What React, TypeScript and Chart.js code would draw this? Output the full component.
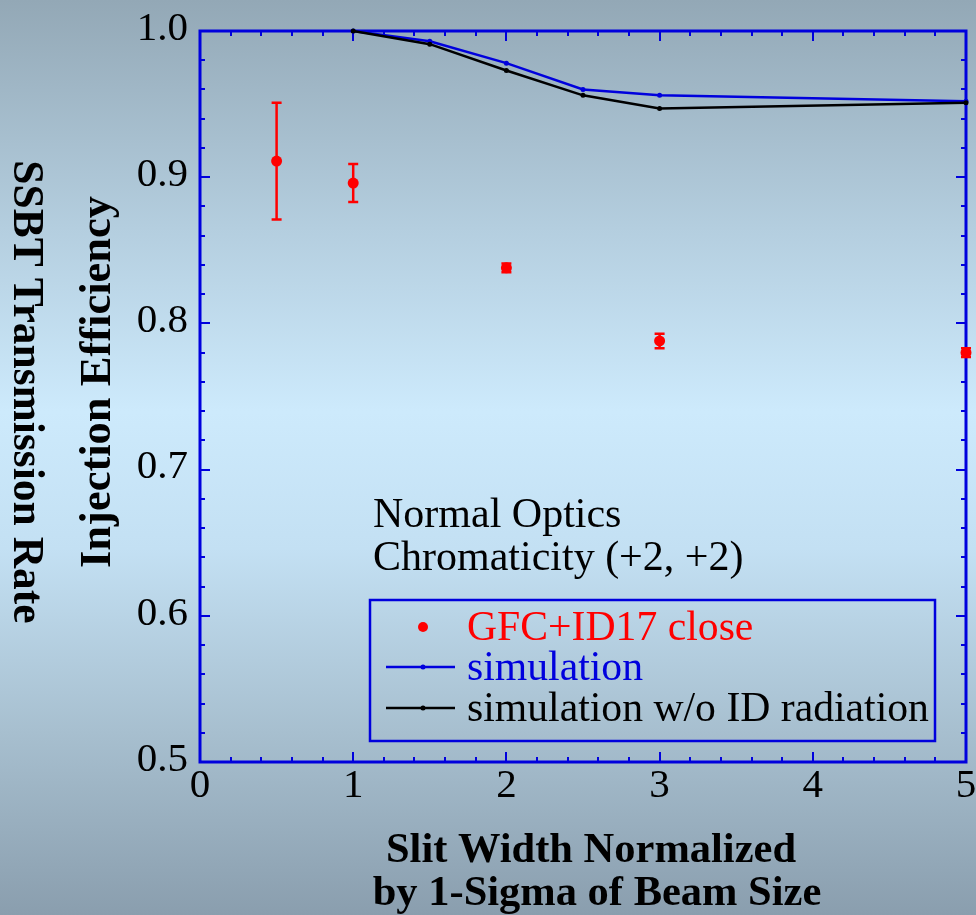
import React, { useEffect, useRef } from "react";
import { Chart, registerables } from "chart.js";

Chart.register(...registerables);

// Measured SSBT transmission (GFC + ID17 closed)
const measuredX = [0.5, 1, 2, 3, 5];
const measuredY = [0.911, 0.896, 0.838, 0.788, 0.78];
const measuredErr = [0.04, 0.013, 0.003, 0.005, 0.003];

// Simulated injection efficiency
const simX = [1, 1.5, 2, 2.5, 3, 5];
const simulation = [1.0, 0.993, 0.978, 0.96, 0.956, 0.952];
const simulationNoId = [1.0, 0.991, 0.973, 0.956, 0.947, 0.951];

// Axis ticks
const xTicks = [0, 1, 2, 3, 4, 5];
const xTickLabels = ["0", "1", "2", "3", "4", "5"];
const yTicks = [0.5, 0.6, 0.7, 0.8, 0.9, 1.0];
const yTickLabels = ["0.5", "0.6", "0.7", "0.8", "0.9", "1.0"];
const xMinorStep = 0.2;
const yMinorStep = 0.02;

const legendLabels = ["GFC+ID17 close", "simulation", "simulation w/o ID radiation"];
const noteLines = ["Normal Optics", "Chromaticity (+2, +2)"];
const xTitleLines = ["Slit Width Normalized", "by 1-Sigma of Beam Size"];
const yTitleInner = "Injection Efficiency";
const yTitleOuter = "SSBT Transmission Rate";

const AXIS_BLUE = "#0000dd";
const RED = "#ff0000";
const SERIF = '"Liberation Serif", "Times New Roman", serif';

const errorBars = {
  id: "errorBars",
  beforeDatasetsDraw(chart: any) {
    const { ctx, scales } = chart;
    const xs = scales.x;
    const ys = scales.y;
    ctx.save();
    ctx.strokeStyle = RED;
    ctx.lineWidth = 2.5;
    measuredX.forEach((x, i) => {
      const px = xs.getPixelForValue(x);
      const top = ys.getPixelForValue(measuredY[i] + measuredErr[i]);
      const bot = ys.getPixelForValue(measuredY[i] - measuredErr[i]);
      ctx.beginPath();
      ctx.moveTo(px, top);
      ctx.lineTo(px, bot);
      ctx.moveTo(px - 5, top);
      ctx.lineTo(px + 5, top);
      ctx.moveTo(px - 5, bot);
      ctx.lineTo(px + 5, bot);
      ctx.stroke();
    });
    ctx.restore();
  },
};

const frameAndAxes = {
  id: "frameAndAxes",
  beforeDatasetsDraw(chart: any) {
    const { ctx, chartArea, scales } = chart;
    const { left, right, top, bottom } = chartArea;
    const xs = scales.x;
    const ys = scales.y;
    ctx.save();
    ctx.strokeStyle = AXIS_BLUE;
    ctx.lineCap = "butt";

    // inward ticks on all four sides
    ctx.lineWidth = 2;
    const xMin = xs.min, xMax = xs.max;
    for (let v = xMin; v <= xMax + 1e-9; v += xMinorStep) {
      const major = xTicks.some((t) => Math.abs(t - v) < 1e-6);
      const len = major ? 10 : 5;
      const px = Math.round(xs.getPixelForValue(v));
      ctx.beginPath();
      ctx.moveTo(px, bottom);
      ctx.lineTo(px, bottom - len);
      ctx.moveTo(px, top);
      ctx.lineTo(px, top + len);
      ctx.stroke();
    }
    const yMin = ys.min, yMax = ys.max;
    for (let v = yMin; v <= yMax + 1e-9; v += yMinorStep) {
      const major = yTicks.some((t) => Math.abs(t - v) < 1e-6);
      const len = major ? 10 : 5;
      const py = Math.round(ys.getPixelForValue(v));
      ctx.beginPath();
      ctx.moveTo(left, py);
      ctx.lineTo(left + len, py);
      ctx.moveTo(right, py);
      ctx.lineTo(right - len, py);
      ctx.stroke();
    }

    // frame
    ctx.lineWidth = 3;
    ctx.strokeRect(left, top, right - left, bottom - top);

    // tick labels
    ctx.fillStyle = "#000";
    ctx.font = `41px ${SERIF}`;
    ctx.textAlign = "center";
    ctx.textBaseline = "middle";
    xTicks.forEach((t, i) => {
      ctx.fillText(xTickLabels[i], xs.getPixelForValue(t), bottom + 24);
    });
    ctx.textAlign = "right";
    yTicks.forEach((t, i) => {
      ctx.fillText(yTickLabels[i], left - 12, ys.getPixelForValue(t) - 2);
    });

    // axis titles
    ctx.font = `bold 42.5px ${SERIF}`;
    ctx.textAlign = "center";
    ctx.textBaseline = "alphabetic";
    ctx.fillText(xTitleLines[0], 591, 862);
    ctx.fillText(xTitleLines[1], 597, 905);

    ctx.save();
    ctx.font = `bold 44.5px ${SERIF}`;
    ctx.translate(110, 382);
    ctx.rotate(-Math.PI / 2);
    ctx.fillText(yTitleInner, 0, 0);
    ctx.restore();

    ctx.save();
    ctx.font = `bold 43.5px ${SERIF}`;
    ctx.translate(14, 392);
    ctx.rotate(Math.PI / 2);
    ctx.fillText(yTitleOuter, 0, 0);
    ctx.restore();

    ctx.restore();
  },
  afterDatasetsDraw(chart: any) {
    const { ctx } = chart;
    ctx.save();

    // note text
    ctx.fillStyle = "#000";
    ctx.font = `42px ${SERIF}`;
    ctx.textAlign = "left";
    ctx.textBaseline = "alphabetic";
    ctx.fillText(noteLines[0], 373, 527);
    ctx.fillText(noteLines[1], 373, 570);

    // legend box
    ctx.strokeStyle = AXIS_BLUE;
    ctx.lineWidth = 2.5;
    ctx.strokeRect(370, 600, 565, 141);

    const rows = [627, 667, 708];
    // measured marker
    ctx.fillStyle = RED;
    ctx.beginPath();
    ctx.arc(423, rows[0], 5, 0, Math.PI * 2);
    ctx.fill();
    // line markers
    const lineCols = [AXIS_BLUE, "#000"];
    lineCols.forEach((c, i) => {
      const y = rows[i + 1];
      ctx.strokeStyle = c;
      ctx.fillStyle = c;
      ctx.lineWidth = 2.5;
      ctx.beginPath();
      ctx.moveTo(386, y);
      ctx.lineTo(455, y);
      ctx.stroke();
      ctx.beginPath();
      ctx.arc(423, y, 2.5, 0, Math.PI * 2);
      ctx.fill();
    });

    ctx.font = `41.7px ${SERIF}`;
    ctx.textBaseline = "middle";
    const textCols = [RED, AXIS_BLUE, "#000"];
    legendLabels.forEach((l, i) => {
      ctx.fillStyle = textCols[i];
      ctx.fillText(l, 467, rows[i] + 2);
    });

    ctx.restore();
  },
};

export default function App() {
  const canvasRef = useRef<HTMLCanvasElement | null>(null);

  useEffect(() => {
    const canvas = canvasRef.current;
    if (!canvas) return;
    const chart = new Chart(canvas, {
      type: "scatter",
      data: {
        datasets: [
          {
            label: legendLabels[0],
            data: measuredX.map((x, i) => ({ x, y: measuredY[i] })),
            backgroundColor: RED,
            borderColor: RED,
            pointRadius: 5.5,
            pointHoverRadius: 5.5,
            borderWidth: 0,
            showLine: false,
            clip: false as any,
            order: 0,
          },
          {
            label: legendLabels[2],
            data: simX.map((x, i) => ({ x, y: simulationNoId[i] })),
            borderColor: "#000",
            backgroundColor: "#000",
            pointRadius: 2.5,
            pointBorderWidth: 0,
            borderWidth: 2.5,
            showLine: true,
            tension: 0,
            clip: false as any,
            order: 1,
          },
          {
            label: legendLabels[1],
            data: simX.map((x, i) => ({ x, y: simulation[i] })),
            borderColor: AXIS_BLUE,
            backgroundColor: AXIS_BLUE,
            pointRadius: 2.5,
            pointBorderWidth: 0,
            borderWidth: 2.5,
            showLine: true,
            tension: 0,
            clip: false as any,
            order: 2,
          },
        ],
      },
      options: {
        animation: false,
        responsive: false,
        maintainAspectRatio: false,
        devicePixelRatio: 1,
        layout: { padding: { left: 200, top: 31, right: 10, bottom: 153 } },
        plugins: {
          legend: { display: false },
          tooltip: { enabled: false },
          title: { display: false },
        },
        events: [],
        scales: {
          x: { type: "linear", display: false, min: 0, max: 5 },
          y: { type: "linear", display: false, min: 0.5, max: 1.0 },
        },
      },
      plugins: [frameAndAxes, errorBars],
    });
    return () => chart.destroy();
  }, []);

  return (
    <div
      style={{
        position: "absolute",
        left: 0,
        top: 0,
        width: 976,
        height: 915,
        overflow: "hidden",
        background:
          "linear-gradient(to bottom, #93a8b6 0%, #b4cedf 25%, #cdeafc 45%, #c3e0f3 60%, #a7bfcf 80%, #8a9eae 100%)",
      }}
    >
      <canvas ref={canvasRef} width={976} height={915} style={{ display: "block" }} />
    </div>
  );
}
